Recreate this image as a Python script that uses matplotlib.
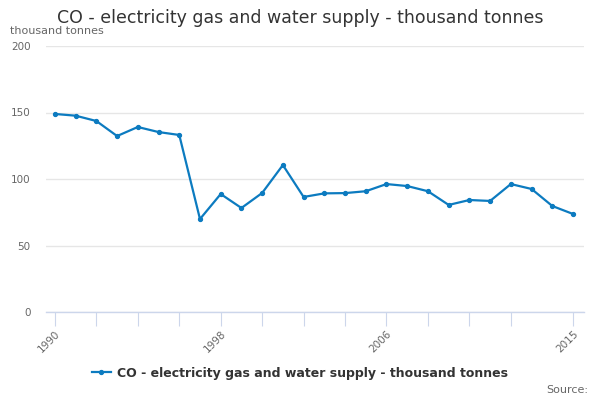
import matplotlib
matplotlib.use('Agg')
import matplotlib.pyplot as plt

### Data -----------------------------------------------------------------------------------------------

years = list(range(1990, 2016))
values = [148.9, 147.6, 143.6, 132.3, 139.1, 135.3, 133.1, 69.9, 88.7, 78.2,
          89.5, 110.5, 86.5, 89.2, 89.4, 90.8, 96.2, 94.7, 90.8, 80.5,
          84.2, 83.5, 96.2, 92.5, 79.7, 73.7]
tickYears = list(range(1990, 2013, 2)) + [2015]
labelYears = [1990, 1998, 2006, 2015]
yTicks = [0, 50, 100, 150, 200]
seriesName = 'CO - electricity gas and water supply - thousand tonnes'

### Plot -----------------------------------------------------------------------------------------------

lineColor = '#0c7bc0'
textColor = '#333333'
labelColor = '#666666'
axisColor = '#ccd6eb'

fig = plt.figure(figsize=(6, 4), dpi=100)
ax = fig.add_axes([46 / 600, 1 - 312 / 400, (584 - 46) / 600, (312 - 46) / 400])

ax.plot(years, values, color=lineColor, linewidth=1.6, marker='o', markersize=2.8,
        label=seriesName)

ax.set_xlim(1989.57, 2015.53)
ax.set_ylim(0, 200)

ax.set_yticks(yTicks)
ax.set_yticklabels([str(v) for v in yTicks])
ax.grid(axis='y', color='#e6e6e6', linewidth=1)
ax.set_axisbelow(True)

ax.set_xticks(tickYears)
ax.set_xticklabels([str(y) if y in labelYears else '' for y in tickYears],
                   rotation=45, ha='right', rotation_mode='anchor')

ax.tick_params(axis='y', length=0, labelsize=7.5, labelcolor=labelColor, pad=11)
ax.tick_params(axis='x', length=10, color=axisColor, labelsize=7.5, labelcolor=labelColor, pad=2)

for side in ['top', 'right', 'left']:
    ax.spines[side].set_visible(False)
ax.spines['bottom'].set_color(axisColor)
ax.spines['bottom'].set_linewidth(1)

fig.text(0.5, 1 - 18 / 400, seriesName, ha='center', va='center', fontsize=12.5, color=textColor)
fig.text(10 / 600, 1 - 31 / 400, 'thousand tonnes', ha='left', va='center', fontsize=8, color=labelColor)
fig.text(588 / 600, 1 - 390 / 400, 'Source:', ha='right', va='center', fontsize=8, color=labelColor)

leg = fig.legend(loc='center', bbox_to_anchor=(0.5, 1 - 373 / 400), frameon=False,
                 prop={'size': 9, 'weight': 'bold'}, handlelength=1.5, handletextpad=0.5)
for t in leg.get_texts():
    t.set_color(textColor)

fig.savefig('out.png', dpi=100)
